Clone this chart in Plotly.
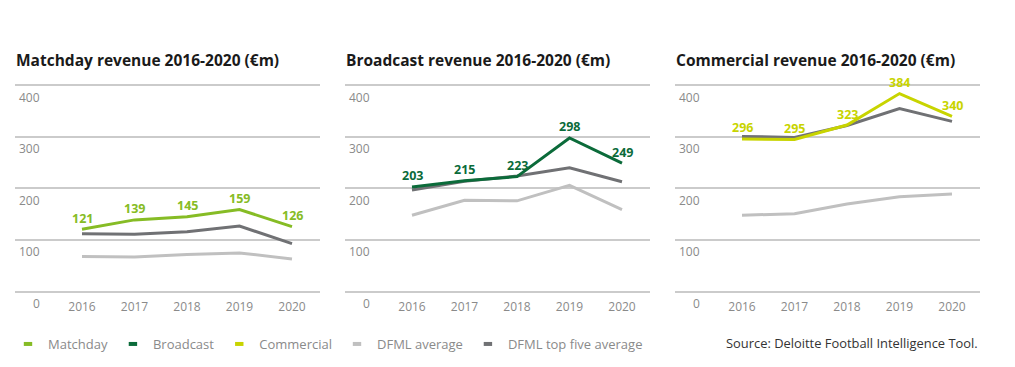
import plotly.graph_objects as go

years = [2016, 2017, 2018, 2019, 2020]

matchday = [121, 139, 145, 159, 126]
matchday_top5 = [112, 111, 116, 127, 93]
matchday_avg = [68, 67, 72, 75, 63]

broadcast = [203, 215, 223, 298, 249]
broadcast_top5 = [197, 214, 224, 240, 213]
broadcast_avg = [148, 177, 176, 206, 159]

commercial = [296, 295, 323, 384, 340]
commercial_top5 = [301, 299, 322, 355, 330]
commercial_avg = [148, 151, 170, 184, 189]

titles = ["Matchday revenue 2016-2020 (€m)",
          "Broadcast revenue 2016-2020 (€m)",
          "Commercial revenue 2016-2020 (€m)"]
y_ticks = [0, 100, 200, 300, 400]

series_names = ["Matchday", "Broadcast", "Commercial", "DFML average", "DFML top five average"]
C_MATCH = "#86BC25"
C_BROAD = "#0B6B3A"
C_COMM = "#C8D400"
C_AVG = "#C0C0C0"
C_TOP5 = "#707174"

OFF = 8  # page body margin
W, H = 1015 - 2 * OFF, 367 - 2 * OFF


def px(x):
    return (x - OFF) / W


def py(y):
    return (H - (y - OFF)) / H


panels = [
    (matchday, matchday_top5, matchday_avg, C_MATCH),
    (broadcast, broadcast_top5, broadcast_avg, C_BROAD),
    (commercial, commercial_top5, commercial_avg, C_COMM),
]
x_px = [(15, 320), (345, 650), (675, 980)]
y_bottom_px, y_top_px = 294, 86  # page pixels of value 0 and 400
px_per_unit = (y_bottom_px - y_top_px) / 400.0
ymax = 410
dom_top_px = y_bottom_px - ymax * px_per_unit

fig = go.Figure()
font = "Open Sans"

for i, (main, top5, avg, col) in enumerate(panels):
    ax = "" if i == 0 else str(i + 1)
    xa, ya = "x" + ax, "y" + ax
    fig.add_trace(go.Scatter(x=years, y=avg, mode="lines", line=dict(color=C_AVG, width=3),
                             xaxis=xa, yaxis=ya, showlegend=False, hoverinfo="skip"))
    fig.add_trace(go.Scatter(x=years, y=top5, mode="lines", line=dict(color=C_TOP5, width=3),
                             xaxis=xa, yaxis=ya, showlegend=False, hoverinfo="skip"))
    fig.add_trace(go.Scatter(x=years, y=main, mode="lines", line=dict(color=col, width=3),
                             xaxis=xa, yaxis=ya, showlegend=False, hoverinfo="skip"))
    for xv, yv in zip(years, main):
        fig.add_annotation(x=xv, y=yv, xref=xa, yref=ya, text=str(yv), showarrow=False,
                           yshift=11, font=dict(family=font, size=12.5, color=col, weight="bold"))
    x0, x1 = x_px[i]
    fig.layout["xaxis" + ax] = dict(
        domain=[px(x0), px(x1)], range=[2016 - 67 / 52.5, 2020 + 28 / 52.5], tickvals=years,
        ticktext=[str(y) for y in years], showgrid=False, zeroline=False,
        showline=False, ticks="outside", ticklen=4, tickcolor="rgba(0,0,0,0)",
        tickfont=dict(family=font, size=12, color="#8a8a8a"),
        anchor=ya, fixedrange=True)
    fig.layout["yaxis" + ax] = dict(
        domain=[py(y_bottom_px), py(dom_top_px)], range=[0, ymax],
        tickvals=y_ticks, showticklabels=False, showgrid=True, gridcolor="#CBCBCB",
        gridwidth=2, zeroline=True, zerolinecolor="#CBCBCB", zerolinewidth=2,
        anchor=xa, fixedrange=True)
    for t in y_ticks:
        fig.add_annotation(x=(42 - 15) / 305, y=t, xref=xa + " domain", yref=ya,
                           text=str(t), showarrow=False, xanchor="right", yanchor="middle",
                           yshift=-12, font=dict(family=font, size=12, color="#8a8a8a"))
    fig.add_annotation(x=px(x0 - 1), y=py(60), xref="paper", yref="paper", text=titles[i],
                       showarrow=False, xanchor="left", yanchor="middle",
                       font=dict(family=font, size=15.5, color="#1a1a1a", weight="bold"))

legend_colors = [C_MATCH, C_BROAD, C_COMM, C_AVG, C_TOP5]
for name, col in zip(series_names, legend_colors):
    fig.add_trace(go.Scatter(x=[None], y=[None], mode="markers", name=name,
                             marker=dict(symbol="line-ew", size=6, line=dict(color=col, width=4)),
                             showlegend=True))

fig.add_annotation(x=px(980), y=py(346), xref="paper", yref="paper",
                   text="Source: Deloitte Football Intelligence Tool.", showarrow=False,
                   xanchor="right", yanchor="middle",
                   font=dict(family=font, size=12.9, color="#333333"))

fig.update_layout(
    width=W, height=H, margin=dict(l=0, r=0, t=0, b=0),
    paper_bgcolor="white", plot_bgcolor="white",
    legend=dict(orientation="h", x=0, xanchor="left", y=py(347), yanchor="middle",
                font=dict(family=font, size=13, color="#8a8a8a"), bgcolor="rgba(0,0,0,0)",
                traceorder="normal"),
    showlegend=True,
)

fig.write_html("out.html")
